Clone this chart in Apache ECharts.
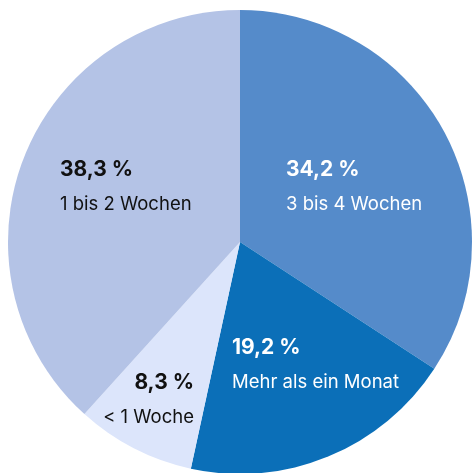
<!DOCTYPE html>
<html>
<head>
<meta charset="utf-8">
<script src="https://cdn.jsdelivr.net/npm/echarts@6/dist/echarts.min.js"></script>
<style>
  html, body { margin: 0; padding: 0; background: #fff; }
  #chart { width: 472px; height: 473px; }
</style>
</head>
<body>
<div id="chart"></div>
<script>
// data
const names = ['3 bis 4 Wochen', 'Mehr als ein Monat', '< 1 Woche', '1 bis 2 Wochen'];
const shares = [34.2, 19.2, 8.3, 38.3];

// look
const sliceColors = ['#558bca', '#0b6fb8', '#dce5fb', '#b4c3e6'];
const textColors = ['#ffffff', '#ffffff', '#111111', '#111111'];
const labelPos = [
  { x: 286, y: 154, align: 'left' },
  { x: 232, y: 332, align: 'left' },
  { x: 194, y: 367, align: 'right' },
  { x: 60, y: 154, align: 'left' },
];

const fmt = (v) => v.toFixed(1).replace('.', ',') + ' %';

const chart = echarts.init(document.getElementById('chart'));
chart.setOption({
  animation: false,
  textStyle: { fontFamily: 'Inter' },
  series: [
    {
      type: 'pie',
      center: [240, 242],
      radius: 232,
      startAngle: 90,
      clockwise: true,
      avoidLabelOverlap: false,
      labelLine: { show: false },
      data: shares.map((v, i) => ({
        name: names[i],
        value: v,
        itemStyle: { color: sliceColors[i] },
        label: {
          align: labelPos[i].align,
          rich: {
            p: { fontSize: 21, fontWeight: 'bold', lineHeight: 32, color: textColors[i], fontFamily: 'Inter', align: labelPos[i].align },
            n: { fontSize: 18.5, lineHeight: 36, color: textColors[i], fontFamily: 'Inter', align: labelPos[i].align },
          },
        },
      })),
      label: {
        show: true,
        position: 'inside',
        formatter: (p) => '{p|' + fmt(p.value) + '}\n{n|' + p.name + '}',
      },
      labelLayout: (params) => {
        const pos = labelPos[params.dataIndex];
        return { x: pos.x, y: pos.y, align: pos.align, verticalAlign: 'top' };
      },
    },
  ],
});
</script>
</body>
</html>
